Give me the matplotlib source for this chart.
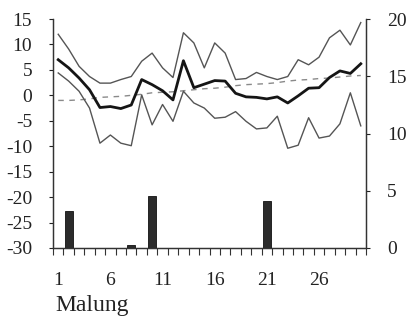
import matplotlib
matplotlib.use("Agg")
import matplotlib.pyplot as plt
from matplotlib.ticker import FixedLocator, NullFormatter

plt.rcParams['font.family'] = ['Liberation Serif', 'DejaVu Serif']

days = list(range(1, 31))

# daily temperature: maximum envelope, mean, minimum envelope, normal
temp_upper = [12.0, 9.1, 5.7, 3.7, 2.4, 2.4, 3.1, 3.7, 6.7, 8.3,
              5.4, 3.5, 12.3, 10.3, 5.4, 10.3, 8.3, 3.1, 3.3, 4.5,
              3.7, 3.1, 3.7, 7.0, 6.0, 7.5, 11.3, 12.8, 9.9, 14.3]
temp_mean = [7.0, 5.4, 3.4, 1.1, -2.4, -2.2, -2.6, -1.9, 3.1, 2.1,
             0.9, -0.9, 6.8, 1.5, 2.2, 2.9, 2.8, 0.4, -0.3, -0.4,
             -0.7, -0.3, -1.5, -0.1, 1.4, 1.5, 3.5, 4.8, 4.3, 6.2]
temp_lower = [4.4, 2.8, 0.8, -2.5, -9.4, -7.8, -9.4, -9.9, 0.1, -5.8,
              -1.8, -5.1, 0.8, -1.5, -2.5, -4.5, -4.3, -3.2, -5.1, -6.6,
              -6.4, -4.1, -10.4, -9.8, -4.4, -8.4, -8.0, -5.6, 0.5, -6.0]
temp_normal = [-1.0, -1.0, -0.9, -0.7, -0.4, -0.3, -0.2, 0.0, 0.2, 0.5,
               0.6, 0.7, 0.9, 1.1, 1.3, 1.4, 1.6, 1.9, 2.1, 2.2,
               2.3, 2.5, 2.8, 3.0, 3.1, 3.3, 3.4, 3.6, 3.8, 3.9]

# daily precipitation (right axis)
precip_days = [2, 8, 10, 21]
precip_mm = [3.2, 0.3, 4.5, 4.1]

left_ticks = [15, 10, 5, 0, -5, -10, -15, -20, -25, -30]
right_ticks = [0, 5, 10, 15, 20]
x_labels = [1, 6, 11, 16, 21, 26]

W, H = 407, 328
fig = plt.figure(figsize=(W / 100, H / 100), dpi=100)
ax = fig.add_axes([53 / W, 1 - 248 / H, 313 / W, 229 / H])
ax2 = ax.twinx()

ax.plot(days, temp_normal, color='#8a8a8a', lw=1.0, dashes=(4, 4), zorder=2)
ax.plot(days, temp_upper, color='#555555', lw=1.0, zorder=3)
ax.plot(days, temp_lower, color='#555555', lw=1.0, zorder=3)
ax.plot(days, temp_mean, color='#151515', lw=2.0, zorder=4)

ax2.bar(precip_days, precip_mm, width=0.78, color='#2b2b2b',
        edgecolor='#111111', linewidth=0.6)

ax.set_xlim(0.5, 30.5)
ax.set_ylim(-30, 15)
ax2.set_ylim(0, 20)

for a in (ax, ax2):
    a.spines['top'].set_visible(False)
    for s in ('left', 'right', 'bottom'):
        a.spines[s].set_color('#333333')
        a.spines[s].set_linewidth(0.9)

ax.set_yticks(left_ticks)
ax.set_yticklabels([str(v) for v in left_ticks])
ax2.set_yticks(right_ticks)
ax2.set_yticklabels([str(v) for v in right_ticks])

ax.set_xticks(x_labels)
ax.set_xticklabels([str(v) for v in x_labels])
ax.xaxis.set_minor_locator(FixedLocator([d + 0.5 for d in range(0, 31)]))
ax.xaxis.set_minor_formatter(NullFormatter())

ax.tick_params(axis='y', direction='out', length=3, width=0.8,
               labelsize=14, pad=12, colors='#222222')
ax2.tick_params(axis='y', direction='out', length=3, width=0.8,
                labelsize=14, pad=12, colors='#222222')
ax.tick_params(axis='x', which='major', length=0, labelsize=14, pad=17,
               colors='#222222')
ax.tick_params(axis='x', which='minor', direction='out', length=5,
               width=0.8, color='#333333')

fig.text(55 / W, 1 - 311 / H, 'Malung', fontsize=17, color='#222222',
         ha='left', va='baseline')

fig.savefig('out.png', dpi=100)
